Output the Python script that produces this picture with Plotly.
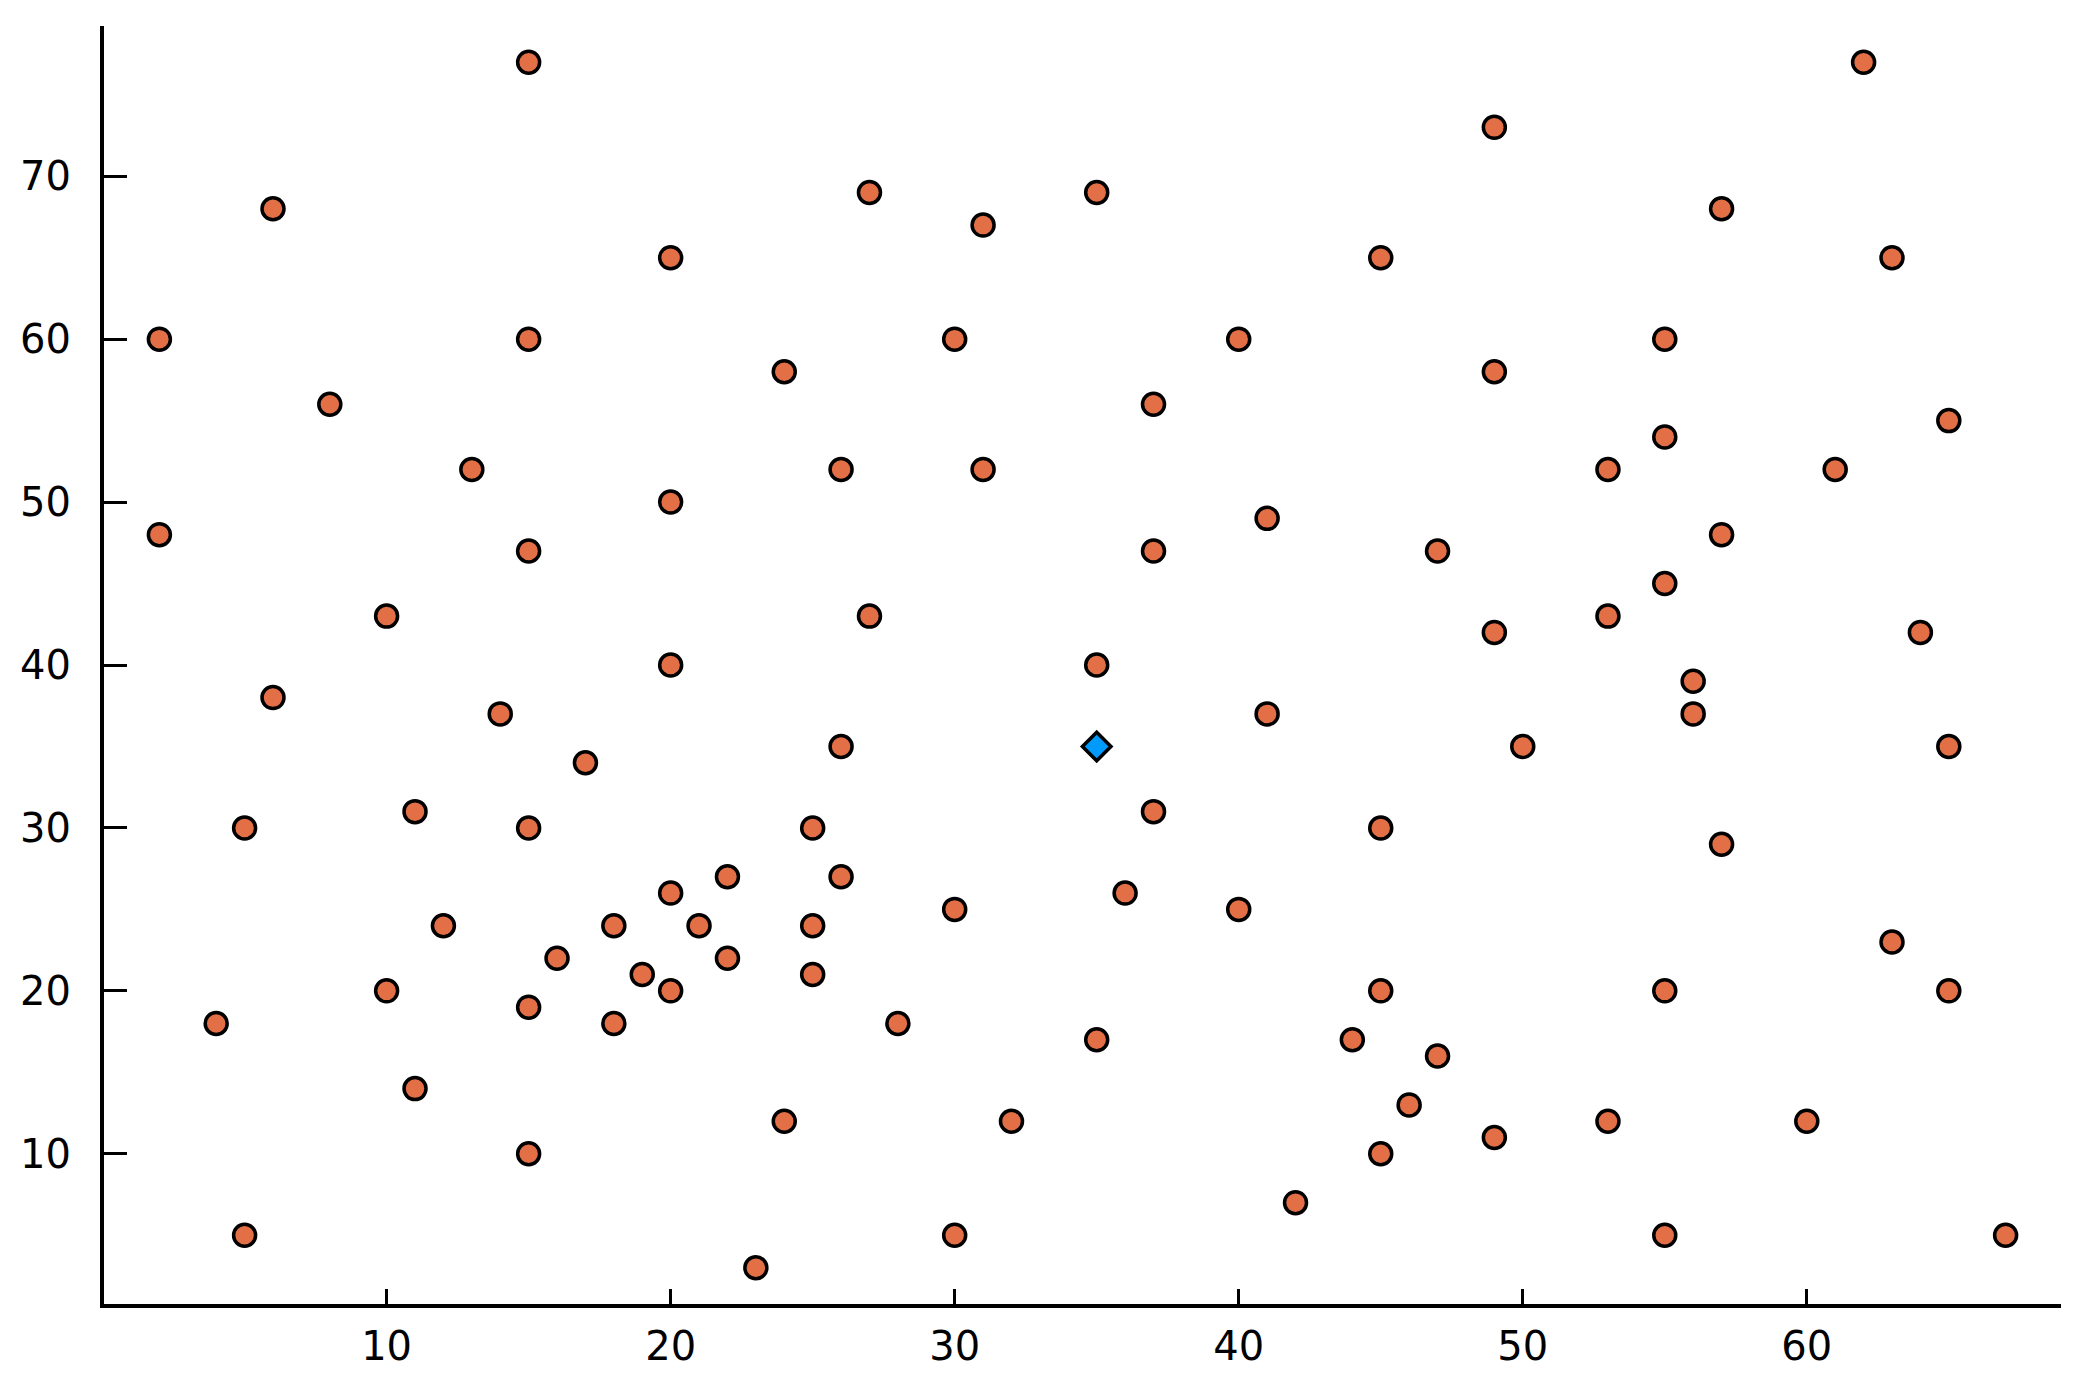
import plotly.graph_objects as go

# depot
depot_x = [35]
depot_y = [35]

# customer locations
cust_x = [41, 35, 55, 55, 15, 25, 20, 10, 55, 30, 20, 50, 30, 15, 30, 10, 5, 20, 15, 45,
          45, 45, 55, 65, 65, 45, 35, 41, 64, 40, 31, 35, 53, 65, 63, 2, 20, 5, 60, 40,
          42, 24, 23, 11, 6, 2, 8, 13, 6, 47, 49, 27, 37, 57, 63, 53, 32, 36, 21, 17,
          12, 24, 27, 15, 62, 49, 67, 56, 37, 37, 57, 47, 44, 46, 49, 49, 53, 61, 57, 56,
          55, 15, 14, 11, 16, 4, 28, 26, 26, 31, 15, 22, 18, 26, 25, 22, 25, 19, 20, 18]
cust_y = [49, 17, 45, 20, 30, 30, 50, 43, 60, 60, 65, 35, 25, 10, 5, 20, 30, 40, 60, 65,
          20, 10, 5, 35, 20, 30, 40, 37, 42, 60, 52, 69, 52, 55, 65, 60, 20, 5, 12, 25,
          7, 12, 3, 14, 38, 48, 56, 52, 68, 47, 58, 43, 31, 29, 23, 12, 12, 26, 24, 34,
          24, 58, 69, 77, 77, 73, 5, 39, 47, 56, 68, 16, 17, 13, 11, 42, 43, 52, 48, 37,
          54, 47, 37, 31, 22, 18, 18, 52, 35, 67, 19, 22, 24, 27, 24, 27, 21, 21, 26, 18]

x_ticks = [10, 20, 30, 40, 50, 60]
y_ticks = [10, 20, 30, 40, 50, 60, 70]

fig = go.Figure()
fig.add_trace(go.Scatter(
    x=cust_x, y=cust_y, mode="markers", name="customers",
    marker=dict(symbol="circle", size=22, color="#E26F46",
                line=dict(color="black", width=3.5)),
))
fig.add_trace(go.Scatter(
    x=depot_x, y=depot_y, mode="markers", name="depot",
    marker=dict(symbol="diamond", size=22, color="#009AFA",
                line=dict(color="black", width=3.5)),
))

axis_style = dict(
    showgrid=False, zeroline=False, showline=True, linecolor="black", linewidth=4,
    ticks="inside", tickcolor="black", tickwidth=3, mirror=False,
    tickfont=dict(family="DejaVu Sans", size=40, color="black"),
)
fig.update_xaxes(range=[0.05, 68.95], tickvals=x_ticks, ticklen=15,
                 ticklabelstandoff=4, **axis_style)
fig.update_yaxes(range=[0.78, 79.22], tickvals=y_ticks, ticklen=23,
                 ticklabelstandoff=21, **axis_style)

fig.update_layout(
    width=2086, height=1381,
    showlegend=False,
    plot_bgcolor="white", paper_bgcolor="white",
    margin=dict(l=90, r=33, t=18, b=85),
)

fig.write_html("out.html")
